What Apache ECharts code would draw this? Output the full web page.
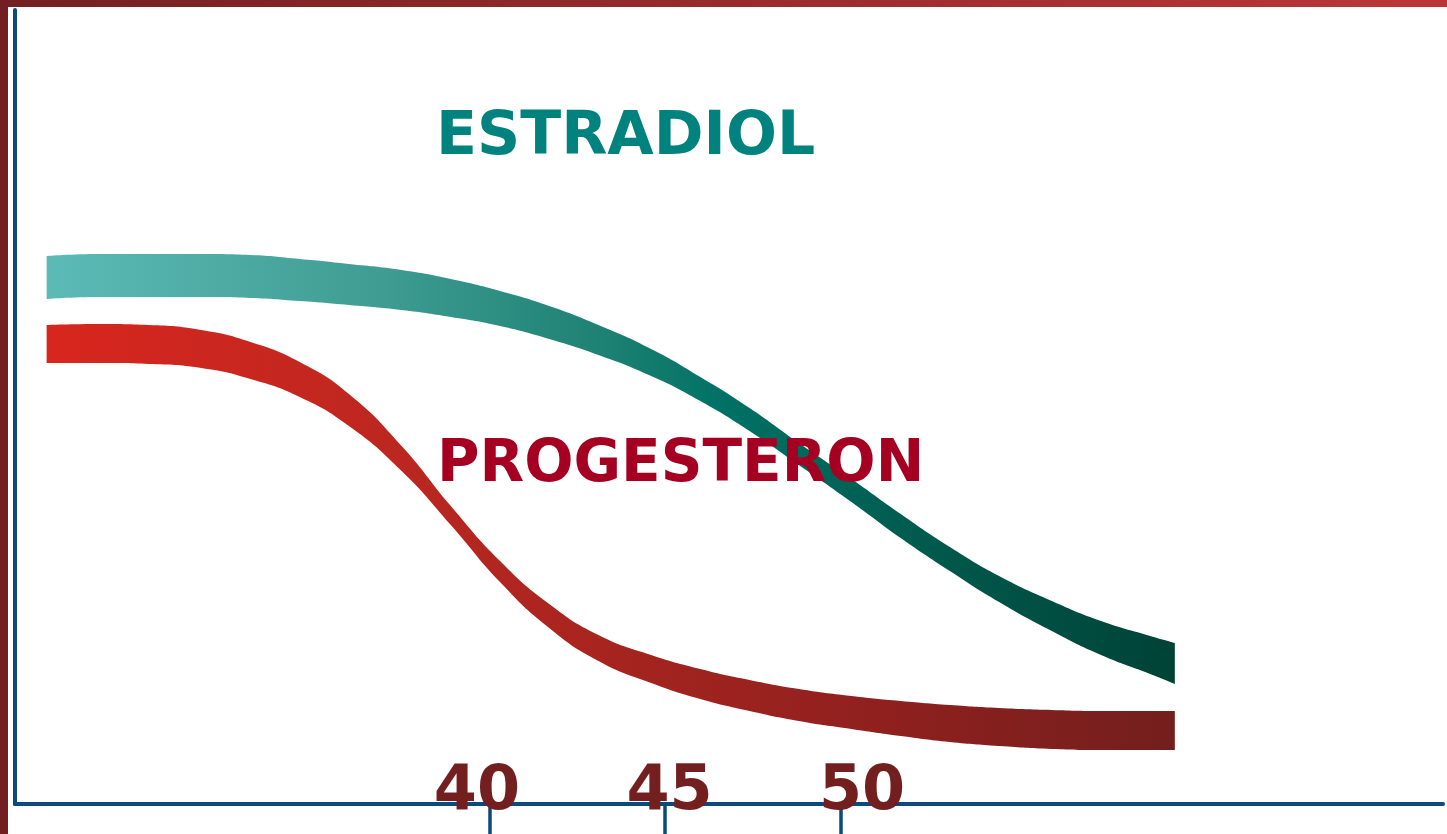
<!DOCTYPE html>
<html>
<head>
<meta charset="utf-8">
<script src="https://cdn.jsdelivr.net/npm/echarts@6/dist/echarts.min.js"></script>
<style>
html,body{margin:0;padding:0;background:#fff;}
#chart{width:1447px;height:834px;}
</style>
</head>
<body>
<div id="chart"></div>
<script>
// Age (x) sample positions
const ages = [27.4, 28.9, 30.3, 31.8, 33.2, 34.6, 36.0, 37.5, 38.9, 40.3, 41.7, 43.1, 44.6, 46.0, 47.4, 48.8, 50.3, 51.7, 53.1, 54.5, 56.0, 57.4, 58.8, 59.5];
// Band edges (upper and lower) for each hormone
const estradiolTop    = [548, 550, 550, 550, 549, 545, 540, 534, 525, 513, 498, 479, 455, 427, 396, 361, 325, 290, 257, 228, 203, 183, 168, 161];
const estradiolBottom = [505, 507, 507, 507, 506, 503, 499, 494, 487, 478, 465, 449, 428, 403, 373, 339, 302, 266, 233, 202, 173, 149, 130, 120];
const progesteronTop    = [479, 480, 479, 474, 462, 442, 410, 358, 298, 243, 200, 169, 149, 135, 124, 115, 108, 103, 99, 96, 94, 93, 93, 93];
const progesteronBottom = [441, 441, 440, 436, 425, 407, 378, 333, 279, 222, 176, 143, 121, 105, 93, 83, 75, 68, 62, 58, 55, 54, 54, 54];
const tickAges = [40, 45, 50];
const tickLabels = ['40', '45', '50'];
const seriesNames = ['ESTRADIOL', 'PROGESTERON'];

const AXIS = '#0b4a7b';
// value first, age second (encode maps them), so stacking works on the value dimension
const basePts = arr => ages.map((a, i) => [arr[i], a]);
const bandPts = (top, bot) => ages.map((a, i) => [top[i] - bot[i], a]);
const grad = stops => new echarts.graphic.LinearGradient(0, 0, 1, 0, stops.map(s => ({offset: s[0], color: s[1]})));

const estGrad = grad([[0, '#5dbbb7'], [0.3, '#3e9c92'], [0.5, '#1c8072'], [0.6, '#007165'], [0.78, '#005a4d'], [1, '#004236']]);
const proGrad = grad([[0, '#d8261e'], [0.3, '#bd2720'], [0.5, '#a6241f'], [0.75, '#8e201e'], [1, '#731f1d']]);

function line(name, data, stack, fill, z) {
  const s = {
    name: name, type: 'line', data: data, stack: stack, smooth: 0.5, symbol: 'none', z: z,
    encode: {x: 1, y: 0},
    xAxisIndex: 0, yAxisIndex: 0,
    lineStyle: {width: 0, opacity: 0},
    silent: true, animation: false
  };
  if (fill) s.areaStyle = {color: fill, opacity: 1};
  return s;
}

const chart = echarts.init(document.getElementById('chart'), null, {renderer: 'canvas'});
chart.setOption({
  animation: false,
  backgroundColor: '#ffffff',
  grid: {left: 15, right: 4, top: 10, bottom: 30, containLabel: false},
  xAxis: [
    {
      type: 'value', min: 26.5, max: 67.13, position: 'bottom', z: 10,
      axisLine: {show: true, onZero: false, lineStyle: {color: AXIS, width: 4}},
      axisTick: {show: true, customValues: tickAges, length: 30, inside: false, lineStyle: {color: AXIS, width: 3.5}},
      axisLabel: {show: false},
      splitLine: {show: false}
    },
    {
      type: 'value', min: 28, max: 65.09, position: 'bottom', z: 11,
      axisLine: {show: false}, axisTick: {show: false}, splitLine: {show: false},
      axisLabel: {
        show: true, customValues: tickAges,
        formatter: v => tickLabels[tickAges.indexOf(v)],
        fontFamily: 'DejaVu Sans', fontWeight: 'bold', fontSize: 62, color: '#731f20',
        margin: -11, verticalAlign: 'middle'
      }
    }
  ],
  yAxis: {
    type: 'value', min: 0, max: 794, z: 10,
    axisLine: {show: true, onZero: false, lineStyle: {color: AXIS, width: 4}},
    axisTick: {show: false}, axisLabel: {show: false}, splitLine: {show: false}
  },
  series: [
    line(seriesNames[0] + ' base', basePts(estradiolBottom), 'e', null, 2),
    line(seriesNames[0], bandPts(estradiolTop, estradiolBottom), 'e', estGrad, 3),
    line(seriesNames[1] + ' base', basePts(progesteronBottom), 'p', null, 2),
    line(seriesNames[1], bandPts(progesteronTop, progesteronBottom), 'p', proGrad, 3)
  ],
  graphic: [
    {type: 'rect', left: 0, top: 0, z: 100, shape: {width: 8, height: 834}, style: {fill: '#731f21'}},
    {type: 'rect', left: 0, top: 0, z: 100, shape: {width: 1447, height: 7},
      style: {fill: new echarts.graphic.LinearGradient(0, 0, 1, 0, [{offset: 0, color: '#731f21'}, {offset: 1, color: '#bc3639'}])}},
    {type: 'text', x: 436, y: 138, z: 50,
      style: {text: seriesNames[0], fill: '#00827e', font: 'bold 60px "DejaVu Sans"', verticalAlign: 'middle'}},
    {type: 'text', x: 437, y: 466, z: 50,
      style: {text: seriesNames[1], fill: '#a50021', font: 'bold 58px "DejaVu Sans"', verticalAlign: 'middle'}}
  ]
});
</script>
</body>
</html>
